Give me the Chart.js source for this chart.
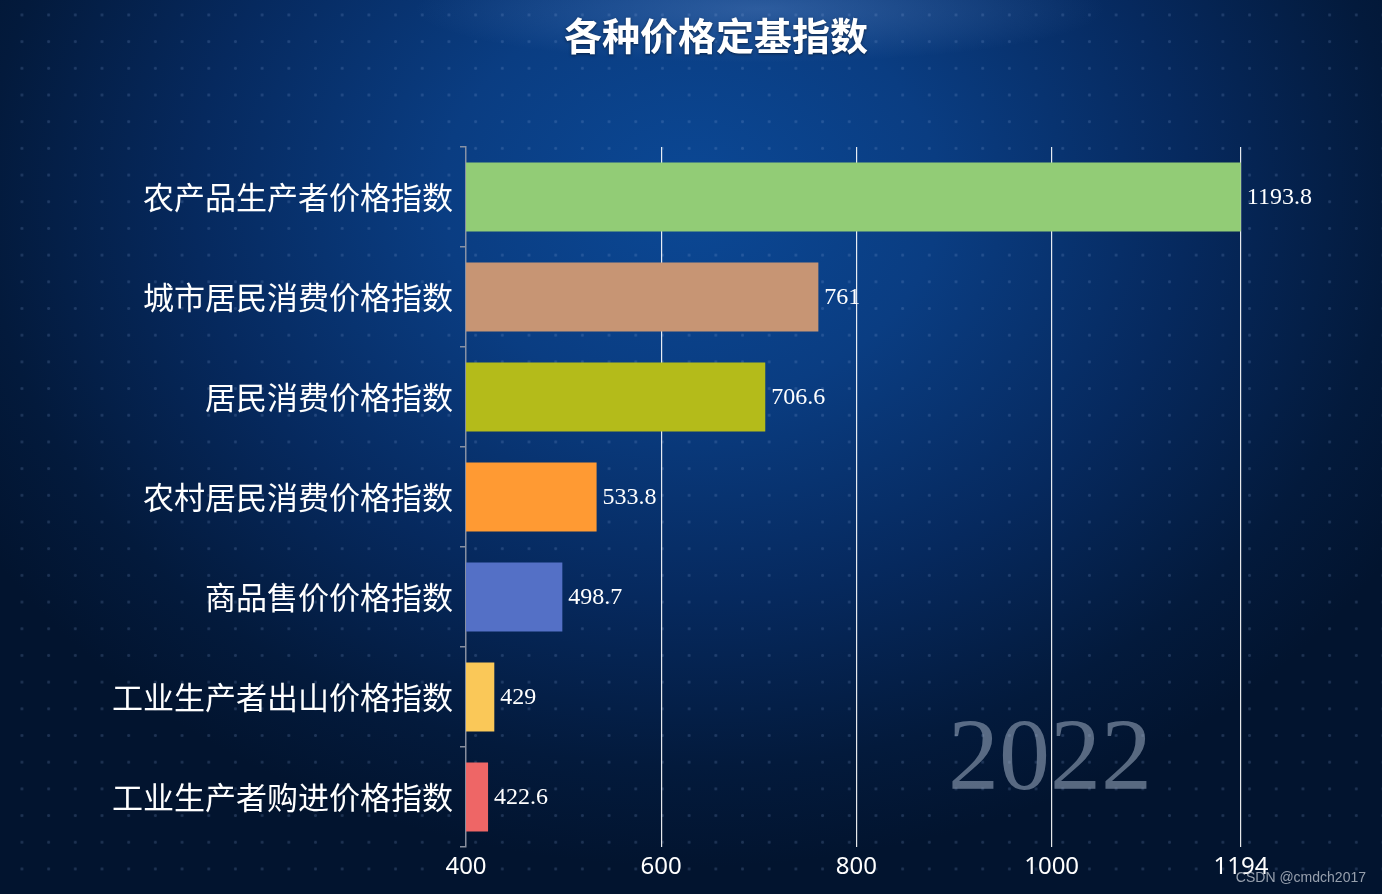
<!DOCTYPE html>
<html lang="zh">
  <head>
    <meta charset="UTF-8" />
    <title>各种价格定基指数</title>
    <script src="https://cdn.jsdelivr.net/npm/chart.js"></script>
    <style>
      html, body { margin: 0; padding: 0; }
      body {
        width: 1382px;
        height: 894px;
        overflow: hidden;
        background:
          radial-gradient(circle, rgba(140,170,220,0.2) 0, rgba(140,170,220,0.2) 1.2px, transparent 1.8px) 8.6px 1.6px / 26.7px 26.7px,
          radial-gradient(ellipse 25% 6% at 55% 1%, rgba(110,150,210,0.35) 0%, rgba(110,150,210,0) 100%),
          radial-gradient(ellipse 60% 75% at 50% 22%, #0b4895 0%, #0a3d82 30%, #06295e 60%, #031a3c 85%, #02142f 100%);
      }
      #wrap { position: relative; width: 1382px; height: 894px; }
    </style>
  </head>
  <body>
    <div id="wrap"><canvas id="priceChart" width="1382" height="894"></canvas></div>

    <script>
      var chartTitle = "各种价格定基指数";
      var categories = [
        "农产品生产者价格指数",
        "城市居民消费价格指数",
        "居民消费价格指数",
        "农村居民消费价格指数",
        "商品售价价格指数",
        "工业生产者出山价格指数",
        "工业生产者购进价格指数",
      ];
      var values = [1193.8, 761, 706.6, 533.8, 498.7, 429, 422.6];
      var barColors = ["#92cc76", "#c79574", "#b4bb1a", "#ff9a33", "#5470c6", "#fac858", "#ee6666"];
      var xTicks = [400, 600, 800, 1000, 1194];
      var yearLabel = "2022";

      // title centred on the page, value labels at bar ends, big year text and watermark
      var extras = {
        id: "extras",
        afterDatasetsDraw: function (chart) {
          var ctx = chart.ctx;
          var meta = chart.getDatasetMeta(0);
          ctx.save();
          ctx.fillStyle = "#ffffff";
          ctx.font = "24px 'Liberation Serif', 'DejaVu Serif', serif";
          ctx.textAlign = "left";
          ctx.textBaseline = "middle";
          meta.data.forEach(function (bar, i) {
            ctx.fillText(String(values[i]), bar.x + 6, bar.y + 1);
          });

          ctx.fillStyle = "rgba(160,175,195,0.55)";
          ctx.font = "102px 'Liberation Serif', 'DejaVu Serif', serif";
          ctx.textAlign = "center";
          ctx.fillText(yearLabel, 1050, 762);

          ctx.fillStyle = "rgba(200,205,215,0.75)";
          ctx.font = "14px 'Liberation Sans', Arial, sans-serif";
          ctx.textAlign = "right";
          ctx.fillText("CSDN @cmdch2017", 1366, 878);

          ctx.fillStyle = "#ffffff";
          ctx.shadowColor = "rgba(0,0,0,0.5)";
          ctx.shadowBlur = 3;
          ctx.shadowOffsetY = 1;
          ctx.font = "bold 38px 'Noto Sans CJK SC', sans-serif";
          ctx.textAlign = "center";
          ctx.fillText(chartTitle, chart.width / 2 + 25, 36);
          ctx.restore();
        },
      };

      var ctx = document.getElementById("priceChart").getContext("2d");
      var priceChart = new Chart(ctx, {
        type: "bar",
        data: {
          labels: categories,
          datasets: [
            {
              data: values,
              backgroundColor: barColors,
              borderWidth: 0,
              categoryPercentage: 1,
              barPercentage: 0.69,
            },
          ],
        },
        options: {
          indexAxis: "y",
          responsive: false,
          animation: false,
          layout: { padding: { left: 0, right: 141, top: 147, bottom: 0 } },
          plugins: {
            legend: { display: false },
            tooltip: { enabled: false },
            title: { display: false },
          },
          scales: {
            x: {
              min: 400,
              max: 1194,
              afterBuildTicks: function (scale) {
                scale.ticks = xTicks.map(function (v) { return { value: v }; });
              },
              afterFit: function (scale) { scale.height = 47; },
              border: { display: false },
              grid: {
                drawTicks: false,
                lineWidth: 1.2,
                color: function (c) {
                  return c.tick && c.tick.value === 400 ? "rgba(0,0,0,0)" : "rgba(255,255,255,0.9)";
                },
              },
              ticks: {
                color: "#ffffff",
                padding: 6,
                font: { family: "'Noto Sans', 'DejaVu Sans', sans-serif", size: 24 },
                callback: function (v) { return v; },
              },
            },
            y: {
              afterFit: function (scale) { scale.width = 466; },
              border: { display: true, color: "rgba(150,155,170,0.9)", width: 1.5 },
              grid: {
                drawOnChartArea: false,
                tickLength: 6,
                color: "rgba(150,155,170,0.9)",
                lineWidth: 1.5,
              },
              ticks: {
                color: "#ffffff",
                padding: 7,
                font: { family: "'Noto Sans CJK SC', sans-serif", size: 31 },
              },
            },
          },
        },
        plugins: [extras],
      });
    </script>
  </body>
</html>
